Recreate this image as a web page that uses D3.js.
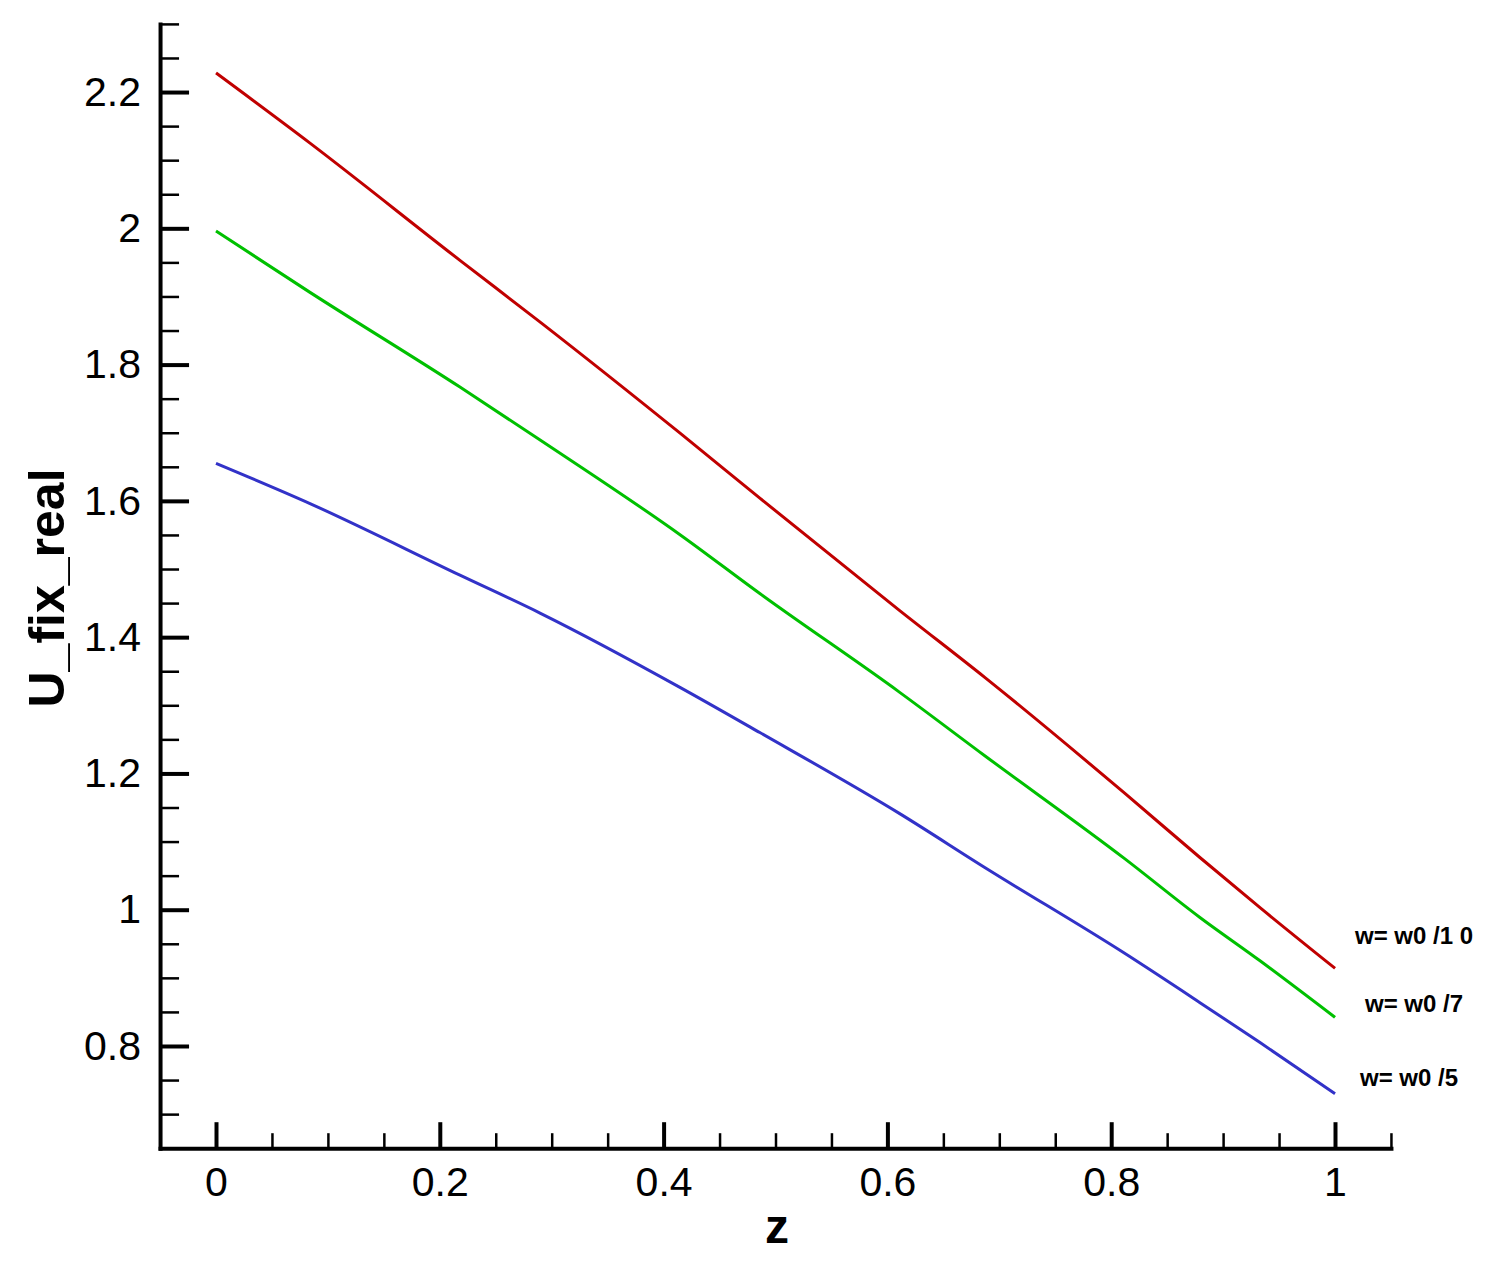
<!DOCTYPE html>
<html>
<head>
<meta charset="utf-8">
<title>U_fix_real vs z</title>
<script src="https://d3js.org/d3.v7.min.js"></script>
<style>
  body { margin: 0; background: #fff; }
  svg { display: block; }
  .tick text { font-family: "Liberation Sans", Arial, sans-serif; font-size: 41px; fill: #000; }
  .title { font-family: "Liberation Sans", Arial, sans-serif; font-weight: bold; fill: #000; }
  .lbl { font-family: "Liberation Sans", Arial, sans-serif; font-weight: bold; font-size: 24px; letter-spacing: 0px; }
</style>
</head>
<body>
<script>
// values
const zVals    = [0, 0.084, 0.218, 0.290, 0.415, 0.486, 0.611, 0.687, 0.812, 0.879, 0.933, 1]
const uW10     = [2.228, 2.125, 1.953, 1.862, 1.699, 1.604, 1.439, 1.341, 1.171, 1.077, 1.003, 0.914]
const uW7      = [1.996, 1.906, 1.767, 1.689, 1.550, 1.464, 1.319, 1.226, 1.075, 0.989, 0.925, 0.842]
const uW5      = [1.655, 1.596, 1.491, 1.435, 1.326, 1.260, 1.141, 1.062, 0.936, 0.864, 0.805, 0.730]
const seriesNames = ["w= w0 /1 0", "w= w0 /7", "w= w0 /5"]
const seriesColors = ["#c00000", "#00c000", "#3232c8"]

const xTicks = [0, 0.2, 0.4, 0.6, 0.8, 1]
const xTickLabels = ["0", "0.2", "0.4", "0.6", "0.8", "1"]
const yTicks = [0.8, 1, 1.2, 1.4, 1.6, 1.8, 2, 2.2]
const yTickLabels = ["0.8", "1", "1.2", "1.4", "1.6", "1.8", "2", "2.2"]

const w = 1486, h = 1266

const x = d3.scaleLinear().domain([-0.05, 1.05]).range([160.05, 1390.95])
const y = d3.scaleLinear().domain([0.65, 2.3]).range([1148.2, 23.9])

const svg = d3.select("body").append("svg")
  .attr("width", w).attr("height", h)

// minor ticks
const xMinor = d3.range(-1, 22).map(i => +(i * 0.05).toFixed(2)).filter(v => !xTicks.includes(v))
const yMinor = d3.range(13, 47).map(i => +(i * 0.05).toFixed(2)).filter(v => !yTicks.includes(v))

svg.append("g")
  .attr("transform", `translate(0,${y(0.65)})`)
  .call(d3.axisBottom(x).tickValues(xMinor).tickSize(-15).tickFormat(""))
  .call(g => g.select(".domain").remove())
  .call(g => g.selectAll("line").attr("stroke-width", 2.5))

svg.append("g")
  .attr("transform", `translate(${x(-0.05)},0)`)
  .call(d3.axisLeft(y).tickValues(yMinor).tickSize(-19).tickFormat(""))
  .call(g => g.select(".domain").remove())
  .call(g => g.selectAll("line").attr("stroke-width", 2.5))

// major axes
svg.append("g")
  .attr("transform", `translate(0,${y(0.65)})`)
  .call(d3.axisBottom(x).tickValues(xTicks).tickSize(-26).tickSizeOuter(0).tickPadding(18)
    .tickFormat((d, i) => xTickLabels[i]))
  .call(g => g.select(".domain").attr("stroke-width", 4).attr("stroke-linecap", "square"))
  .call(g => g.selectAll(".tick line").attr("stroke-width", 4))
  .call(g => g.selectAll(".tick text").attr("dy", "0.75em").attr("y", 17))

svg.append("g")
  .attr("transform", `translate(${x(-0.05)},0)`)
  .call(d3.axisLeft(y).tickValues(yTicks).tickSize(-29).tickSizeOuter(0).tickPadding(19)
    .tickFormat((d, i) => yTickLabels[i]))
  .call(g => g.select(".domain").attr("stroke-width", 4).attr("stroke-linecap", "square"))
  .call(g => g.selectAll(".tick line").attr("stroke-width", 4))

// axis titles
svg.append("text")
  .attr("class", "title")
  .attr("x", 777).attr("y", 1243)
  .attr("text-anchor", "middle")
  .style("font-size", "48px")
  .text("z")

svg.append("text")
  .attr("class", "title")
  .attr("transform", "translate(64,588) rotate(-90)")
  .attr("text-anchor", "middle")
  .style("font-size", "50px")
  .text("U_fix_real")

// curves
const allSeries = [uW10, uW7, uW5]
const line = d3.line()
  .x((d, i) => x(zVals[i]))
  .y(d => y(d))
  .curve(d3.curveMonotoneX)

svg.selectAll(".curve")
  .data(allSeries)
  .enter()
  .append("path")
  .attr("class", "curve")
  .attr("fill", "none")
  .attr("stroke", (d, i) => seriesColors[i])
  .attr("stroke-width", 3)
  .attr("d", d => line(d))

// labels near right ends
const labelPos = [[1355, 944], [1365, 1012], [1360, 1086]]
svg.selectAll(".lbl")
  .data(seriesNames)
  .enter()
  .append("text")
  .attr("class", "lbl")
  .attr("x", (d, i) => labelPos[i][0])
  .attr("y", (d, i) => labelPos[i][1])
  .text(d => d)
</script>
</body>
</html>
